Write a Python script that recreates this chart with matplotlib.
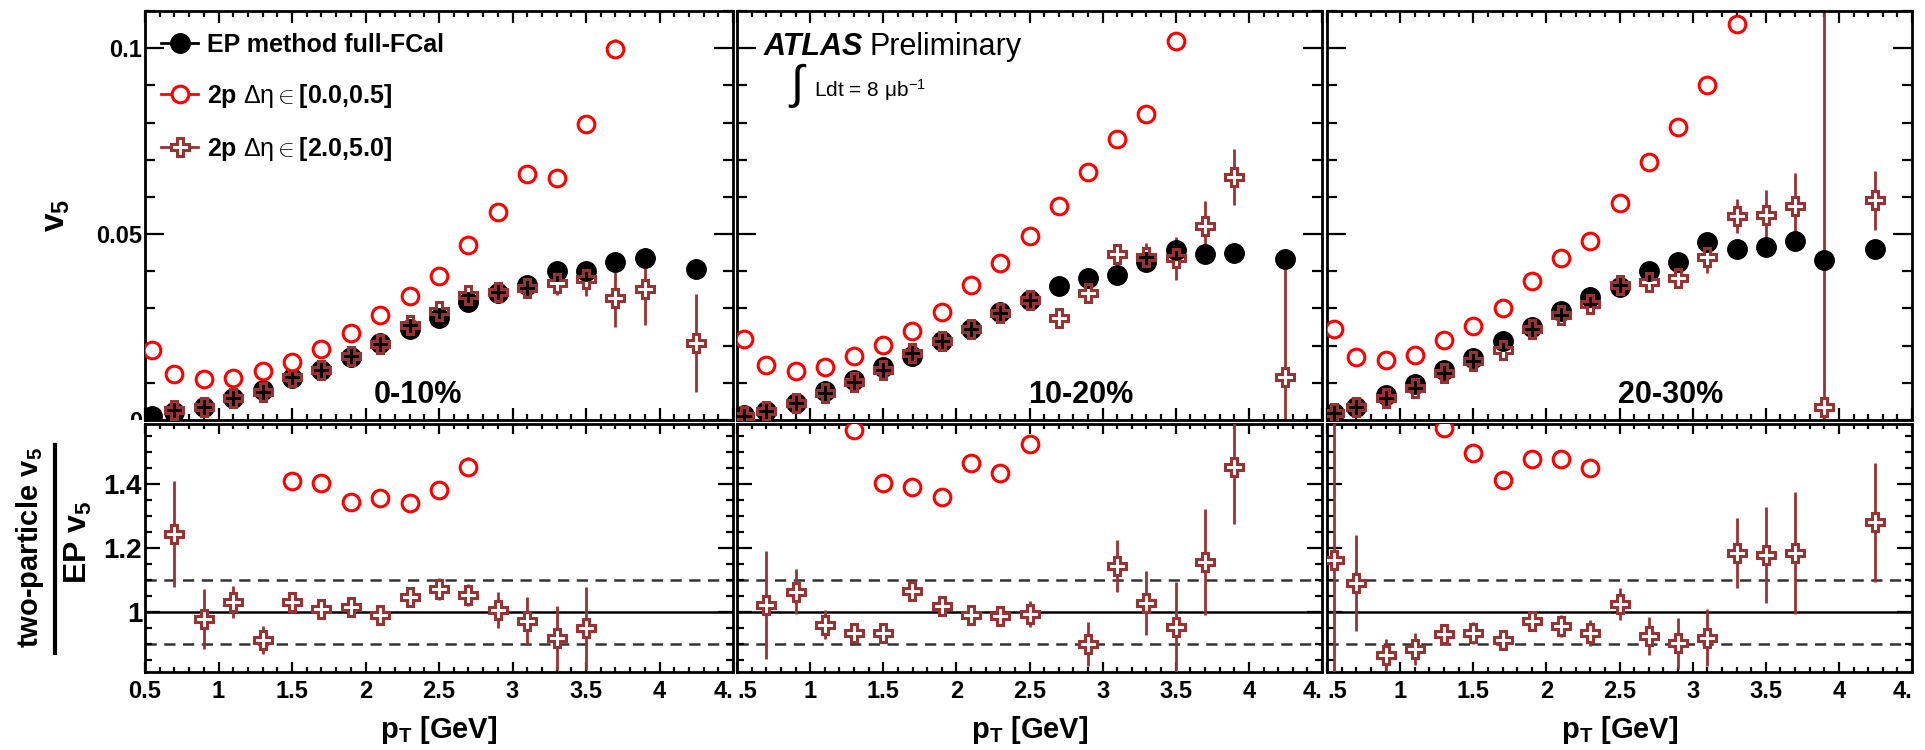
import numpy as np
import matplotlib
matplotlib.use("Agg")
import matplotlib.pyplot as plt
from matplotlib.lines import Line2D
from matplotlib.ticker import MultipleLocator
from matplotlib.transforms import Bbox, TransformedBbox

plt.rcParams['font.family'] = ['Liberation Sans', 'DejaVu Sans']
plt.rcParams['mathtext.fontset'] = 'custom'
plt.rcParams['mathtext.rm'] = 'Liberation Sans'
plt.rcParams['mathtext.bf'] = 'Liberation Sans:bold'
plt.rcParams['mathtext.it'] = 'Liberation Sans:italic'
plt.rcParams['mathtext.sf'] = 'Liberation Sans'

nan = np.nan

# ---------------- data ----------------
pt = [0.55, 0.7, 0.9, 1.1, 1.3, 1.5, 1.7, 1.9, 2.1, 2.3, 2.5, 2.7, 2.9, 3.1, 3.3, 3.5, 3.7, 3.9, 4.25]
centralities = ["0-10%", "10-20%", "20-30%"]

# EP method full-FCal v5
ep_0_10 = [0.0010, 0.0022, 0.0036, 0.0058, 0.0081, 0.0112, 0.0134, 0.0170, 0.0206, 0.0246,
           0.0273, 0.0318, 0.0342, 0.0363, 0.0401, 0.0401, 0.0426, 0.0435, 0.0405]
ep_10_20 = [0.0013, 0.0025, 0.0045, 0.0079, 0.0108, 0.0142, 0.0172, 0.0213, 0.0246, 0.0291,
            0.0324, 0.0360, 0.0381, 0.0390, 0.0426, 0.0457, 0.0446, 0.0448, 0.0432]
ep_20_30 = [0.0020, 0.0034, 0.0067, 0.0096, 0.0134, 0.0166, 0.0213, 0.0251, 0.0294, 0.0332,
            0.0357, 0.0401, 0.0424, 0.0479, 0.0461, 0.0466, 0.0482, 0.0430, 0.0460]

# 2p, |d eta| in [0.0, 0.5]
near_0_10 = [0.0188, 0.0124, 0.0109, 0.0112, 0.0132, 0.0157, 0.0191, 0.0233, 0.0282, 0.0333,
             0.0387, 0.0470, 0.0560, 0.0661, 0.0650, 0.0796, 0.0999, nan, nan]
near_0_10_err = [0.0003, 0.0003, 0.0003, 0.0003, 0.0003, 0.0003, 0.0003, 0.0004, 0.0004, 0.0005,
                 0.0006, 0.0007, 0.0008, 0.0010, 0.0013, 0.0018, 0.0026, nan, nan]
near_10_20 = [0.0217, 0.0148, 0.0132, 0.0142, 0.0173, 0.0201, 0.0239, 0.0291, 0.0363, 0.0421,
              0.0496, 0.0576, 0.0668, 0.0757, 0.0823, 0.1020, nan, nan, nan]
near_10_20_err = [0.0003, 0.0003, 0.0003, 0.0003, 0.0003, 0.0003, 0.0004, 0.0004, 0.0005, 0.0005,
                  0.0006, 0.0007, 0.0009, 0.0011, 0.0014, 0.0024, nan, nan, nan]
near_20_30 = [0.0244, 0.0170, 0.0161, 0.0175, 0.0215, 0.0253, 0.0300, 0.0375, 0.0435, 0.0482,
              0.0584, 0.0693, 0.0789, 0.0902, 0.1064, nan, nan, nan, nan]
near_20_30_err = [0.0003, 0.0003, 0.0003, 0.0003, 0.0003, 0.0004, 0.0004, 0.0005, 0.0005, 0.0006,
                  0.0007, 0.0008, 0.0010, 0.0014, 0.0021, nan, nan, nan, nan]

# 2p, |d eta| in [2.0, 5.0]
far_0_10 = [nan, 0.0027, 0.0036, 0.0060, 0.0075, 0.0115, 0.0135, 0.0172, 0.0204, 0.0256,
            0.0293, 0.0337, 0.0344, 0.0354, 0.0369, 0.0378, 0.0327, 0.0351, 0.0206]
far_0_10_err = [nan, 0.0004, 0.0004, 0.0003, 0.0003, 0.0004, 0.0004, 0.0005, 0.0005, 0.0006,
                0.0008, 0.0010, 0.0015, 0.0020, 0.0034, 0.0045, 0.0076, 0.0095, 0.0132]
far_10_20 = [0.0010, 0.0025, 0.0047, 0.0072, 0.0103, 0.0134, 0.0181, 0.0213, 0.0244, 0.0289,
             0.0323, 0.0273, 0.0342, 0.0446, 0.0439, 0.0435, 0.0521, 0.0654, 0.0116]
far_10_20_err = [0.0003, 0.0003, 0.0003, 0.0003, 0.0004, 0.0004, 0.0005, 0.0005, 0.0006, 0.0007,
                 0.0008, 0.0010, 0.0014, 0.0025, 0.0038, 0.0058, 0.0067, 0.0076, 0.0310]
far_20_30 = [0.0020, 0.0034, 0.0058, 0.0085, 0.0127, 0.0160, 0.0188, 0.0246, 0.0282, 0.0312,
             0.0363, 0.0372, 0.0381, 0.0439, 0.0548, 0.0551, 0.0575, 0.0036, 0.0591]
far_20_30_err = [0.0004, 0.0004, 0.0004, 0.0004, 0.0005, 0.0005, 0.0006, 0.0007, 0.0008, 0.0009,
                 0.0010, 0.0012, 0.0015, 0.0043, 0.0046, 0.0067, 0.0090, 0.1100, 0.0079]

# ratio two-particle / EP
rnear_0_10 = [nan, nan, nan, nan, nan, 1.410, 1.404, 1.345, 1.355, 1.340, 1.380, 1.454,
              nan, nan, nan, nan, nan, nan, nan]
rnear_0_10_err = [nan, nan, nan, nan, nan, 0.022, 0.022, 0.022, 0.022, 0.022, 0.025, 0.030,
                  nan, nan, nan, nan, nan, nan, nan]
rnear_10_20 = [nan, nan, nan, nan, 1.569, 1.402, 1.390, 1.360, 1.467, 1.435, 1.524,
               nan, nan, nan, nan, nan, nan, nan, nan]
rnear_10_20_err = [nan, nan, nan, nan, 0.022, 0.020, 0.020, 0.020, 0.022, 0.022, 0.028,
                   nan, nan, nan, nan, nan, nan, nan, nan]
rnear_20_30 = [nan, nan, nan, nan, 1.574, 1.496, 1.4125, 1.477, 1.477, 1.451,
               nan, nan, nan, nan, nan, nan, nan, nan, nan]
rnear_20_30_err = [nan, nan, nan, nan, 0.022, 0.022, 0.022, 0.022, 0.022, 0.028,
                   nan, nan, nan, nan, nan, nan, nan, nan, nan]

rfar_0_10 = [nan, 1.244, 0.978, 1.030, 0.912, 1.030, 1.008, 1.017, 0.990, 1.046, 1.071, 1.053,
             1.006, 0.973, 0.920, 0.949, nan, nan, nan]
rfar_0_10_err = [nan, 0.165, 0.094, 0.050, 0.043, 0.030, 0.030, 0.030, 0.030, 0.030, 0.035, 0.035,
                 0.056, 0.075, 0.100, 0.130, nan, nan, nan]
rfar_10_20 = [nan, 1.022, 1.064, 0.960, 0.935, 0.933, 1.067, 1.019, 0.990, 0.987, 0.994, nan,
              0.900, 1.144, 1.027, 0.954, 1.157, 1.454, nan]
rfar_10_20_err = [nan, 0.170, 0.070, 0.045, 0.030, 0.030, 0.030, 0.030, 0.030, 0.030, 0.040, nan,
                  0.070, 0.080, 0.100, 0.140, 0.165, 0.180, nan]
rfar_20_30 = [1.1625, 1.090, 0.866, 0.883, 0.930, 0.935, 0.9125, 0.972, 0.956, 0.935, 1.025, 0.925,
              0.902, 0.920, 1.185, 1.178, 1.185, nan, 1.280]
rfar_20_30_err = [0.500, 0.150, 0.050, 0.050, 0.030, 0.035, 0.030, 0.030, 0.035, 0.040, 0.050, 0.060,
                  0.080, 0.090, 0.110, 0.150, 0.190, nan, 0.185]

x_ticks = [0.5, 1.0, 1.5, 2.0, 2.5, 3.0, 3.5, 4.0, 4.5]
x_ticklabels_first = ["0.5", "1", "1.5", "2", "2.5", "3", "3.5", "4", "4."]
x_ticklabels_other = [".5", "1", "1.5", "2", "2.5", "3", "3.5", "4", "4."]
top_yticks = [0.0, 0.05, 0.1]
top_yticklabels = ["0", "0.05", "0.1"]
bot_yticks = [1.0, 1.2, 1.4]
bot_yticklabels = ["1", "1.2", "1.4"]

legend_labels = ["EP method full-FCal",
                 r"2p $\mathrm{\Delta\eta}\in$[0.0,0.5]",
                 r"2p $\mathrm{\Delta\eta}\in$[2.0,5.0]"]

# ---------------- style ----------------
RED = '#ff0000'
BROWN = '#993333'
W, H = 1925, 750
fig = plt.figure(figsize=(W / 100, H / 100), dpi=100)

panels_px = [(145, 733), (737, 1322), (1327, 1912)]
top_px = (11, 420)
bot_px = (424, 672)

def fbox(x0, x1, y0, y1):
    return [x0 / W, 1 - y1 / H, (x1 - x0) / W, (y1 - y0) / H]

data = [
    (ep_0_10, near_0_10, near_0_10_err, far_0_10, far_0_10_err,
     rnear_0_10, rnear_0_10_err, rfar_0_10, rfar_0_10_err),
    (ep_10_20, near_10_20, near_10_20_err, far_10_20, far_10_20_err,
     rnear_10_20, rnear_10_20_err, rfar_10_20, rfar_10_20_err),
    (ep_20_30, near_20_30, near_20_30_err, far_20_30, far_20_30_err,
     rnear_20_30, rnear_20_30_err, rfar_20_30, rfar_20_30_err),
]
cent_text_x = [0.464, 0.588, 0.588]

MS_EP = 14
MS_O = 12
MS_P = 13.5

for i, ((x0, x1), d) in enumerate(zip(panels_px, data)):
    ep, nr, nre, fr, fre, rn, rne, rf, rfe = d
    axt = fig.add_axes(fbox(x0, x1, *top_px))
    axb = fig.add_axes(fbox(x0, x1, *bot_px))

    # --- top panel ---
    axt.errorbar(pt, fr, yerr=fre, fmt='none', ecolor=BROWN, elinewidth=2, zorder=2)
    axt.plot(pt, fr, ls='none', marker='P', ms=MS_P, mfc='white', mec='white', mew=1, zorder=2.5)
    axt.plot(pt, ep, ls='none', marker='o', ms=MS_EP, mfc='black', mec='black', zorder=3)
    axt.plot(pt, fr, ls='none', marker='P', ms=MS_P, mfc='none', mec=BROWN, mew=2.2, zorder=4)
    axt.errorbar(pt, nr, yerr=nre, fmt='o', ms=MS_O, mfc='white', mec=RED, mew=2.2,
                 ecolor=RED, elinewidth=2, zorder=5)
    axt.set_xlim(0.5, 4.5)
    axt.set_ylim(0.0, 0.11)

    # --- ratio panel ---
    axb.axhline(1.0, color='black', lw=1.8, zorder=1)
    axb.axhline(1.1, color='#333333', lw=1.8, ls=(0, (4.5, 3)), zorder=1)
    axb.axhline(0.9, color='#333333', lw=1.8, ls=(0, (4.5, 3)), zorder=1)
    axb.errorbar(pt, rf, yerr=rfe, fmt='P', ms=MS_P, mfc='white', mec=BROWN, mew=2.2,
                 ecolor=BROWN, elinewidth=2, zorder=3)
    axb.errorbar(pt, rn, yerr=rne, fmt='o', ms=MS_O, mfc='white', mec=RED, mew=2.2,
                 ecolor=RED, elinewidth=2, zorder=4)
    axb.set_xlim(0.5, 4.5)
    axb.set_ylim(0.8125, 1.5875)

    for ax in (axt, axb):
        for s in ax.spines.values():
            s.set_linewidth(2.0)
        ax.tick_params(which='both', direction='in', top=True, right=True, width=1.6)
        ax.xaxis.set_minor_locator(MultipleLocator(0.1))
        ax.set_xticks(x_ticks)

    axt.yaxis.set_minor_locator(MultipleLocator(0.01))
    axt.tick_params(axis='y', which='major', length=14)
    axt.tick_params(axis='y', which='minor', length=7)
    axt.tick_params(axis='x', which='major', length=8.6)
    axt.tick_params(axis='x', which='minor', length=4.3)
    axt.tick_params(axis='x', labelbottom=False)

    axb.yaxis.set_minor_locator(MultipleLocator(0.05))
    axb.tick_params(axis='y', which='major', length=10.8)
    axb.tick_params(axis='y', which='minor', length=5)
    axb.tick_params(axis='x', which='major', length=7.2, pad=6)
    axb.tick_params(axis='x', which='minor', length=3.6)

    axb.set_xticks(x_ticks, x_ticklabels_first if i == 0 else x_ticklabels_other,
                   fontweight='bold', fontsize=17)
    xl = axb.get_xticklabels()
    xl[-1].set_horizontalalignment('right')
    if i > 0:
        xl[0].set_horizontalalignment('left')

    if i == 0:
        axt.set_yticks(top_yticks, top_yticklabels, fontweight='bold', fontsize=17)
        axb.set_yticks(bot_yticks, bot_yticklabels, fontweight='bold', fontsize=20)
        axt.tick_params(axis='y', pad=2)
        axb.tick_params(axis='y', pad=2)
        clipy = TransformedBbox(Bbox([[-2, 0.0], [1, 2]]), axt.transAxes)
        for lbl in axt.get_yticklabels():
            lbl.set_clip_on(True)
            lbl.set_clip_box(clipy)
    else:
        axt.set_yticks(top_yticks)
        axb.set_yticks(bot_yticks)
        axt.tick_params(axis='y', labelleft=False)
        axb.tick_params(axis='y', labelleft=False)

    axt.text(cent_text_x[i], 0.061, centralities[i], transform=axt.transAxes,
             ha='center', va='center', fontsize=22, fontweight='bold')
    axb.text(0.5, -0.235, r"p$_\mathbf{T}$ [GeV]", transform=axb.transAxes,
             ha='center', va='center', fontsize=21, fontweight='bold')

    if i == 0:
        handles = [
            Line2D([], [], color='black', lw=2, marker='o', ms=MS_EP, mfc='black', mec='black'),
            Line2D([], [], color=RED, lw=2, marker='o', ms=MS_O, mfc='white', mec=RED, mew=2.2),
            Line2D([], [], color=BROWN, lw=2, marker='P', ms=MS_P, mfc='white', mec=BROWN, mew=2.2),
        ]
        axt.legend(handles, legend_labels, loc='upper left', bbox_to_anchor=(0.027, 0.947),
                   frameon=False, borderpad=0, borderaxespad=0, handlelength=1.5,
                   handletextpad=0.35, labelspacing=1.0,
                   prop={'size': 18, 'weight': 'bold'})
    if i == 1:
        axt.text(0.046, 0.912, "ATLAS", transform=axt.transAxes, ha='left', va='center',
                 fontsize=22, fontweight='bold', fontstyle='italic')
        axt.text(0.227, 0.912, "Preliminary", transform=axt.transAxes, ha='left', va='center',
                 fontsize=22)
        axt.text(0.103, 0.817, r"$\int$", transform=axt.transAxes, ha='center', va='center',
                 fontsize=34)
        axt.text(0.132, 0.807, r"Ldt = 8 $\mathrm{\mu}$b$^{\mathrm{-1}}$", transform=axt.transAxes,
                 ha='left', va='center', fontsize=15)

# axis titles
fig.text(57 / W, 1 - 215 / H, r"v$_\mathbf{5}$", rotation=90, ha='center', va='center',
         fontsize=24, fontweight='bold')
fig.text(30 / W, 1 - 548 / H, r"two-particle v$_\mathbf{5}$", rotation=90, ha='center',
         va='center', fontsize=21, fontweight='bold')
fig.text(78 / W, 1 - 542 / H, r"EP v$_\mathbf{5}$", rotation=90, ha='center',
         va='center', fontsize=23, fontweight='bold')
fig.add_artist(Line2D([55 / W, 55 / W], [1 - 445 / H, 1 - 653 / H], color='black', lw=3,
                      transform=fig.transFigure))

fig.savefig("out.png", dpi=100)
